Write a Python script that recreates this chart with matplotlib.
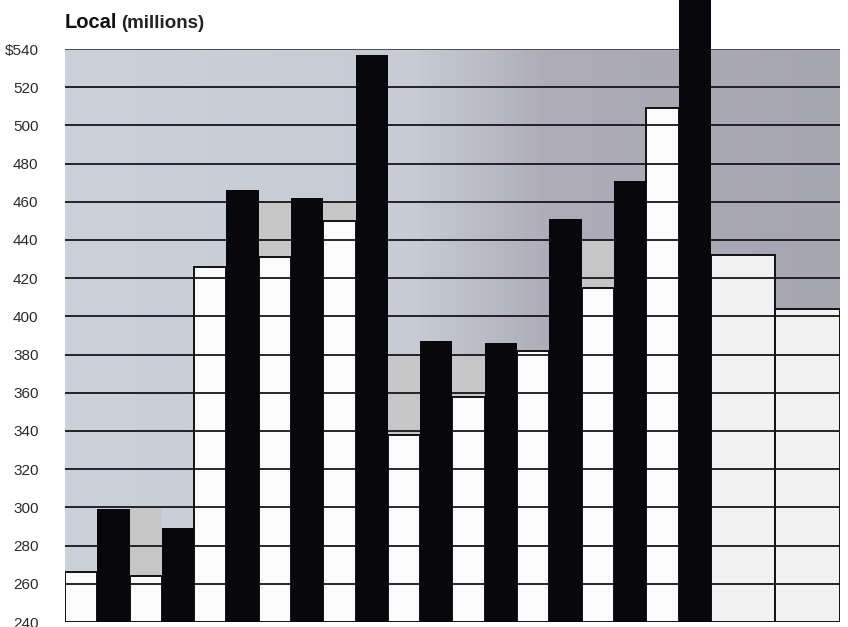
import numpy as np
import matplotlib.pyplot as plt
from matplotlib.colors import LinearSegmentedColormap

plt.rcParams["font.family"] = ["Liberation Sans", "DejaVu Sans"]

# Bar heights ($ millions), left to right
values = [266, 299, 264, 289, 426, 466, 431, 462, 450, 537, 338,
          387, 358, 386, 382, 451, 415, 471, 509, 590, 432, 404]
kinds = ["w", "b"] * 10 + ["w", "w"]
widths = [1] * 20 + [2, 2]

# Light gray extensions sitting on top of some white bars: bar index -> (low, high)
shade_ranges = {2: (264, 300), 6: (431, 460), 8: (450, 460),
                10: (338, 380), 12: (358, 380), 16: (415, 440)}

ytick_vals = list(range(240, 541, 20))
ytick_labels = [str(v) for v in ytick_vals[:-1]] + ["$540"]

lefts = np.concatenate([[0], np.cumsum(widths)[:-1]])
xmax = float(sum(widths))
ymin, ymax = 240, 540

fig = plt.figure(figsize=(8.48, 6.27), dpi=100)
ax = fig.add_axes([65 / 848, 5 / 627, 775 / 848, 573 / 627])
ax.set_xlim(0, xmax)
ax.set_ylim(ymin, ymax)

# shaded backdrop, cool gray on the left drifting to a darker mauve gray
bg = LinearSegmentedColormap.from_list(
    "bg", [(0.0, "#cbd1da"), (0.45, "#c6cbd4"), (0.63, "#adacb8"), (1.0, "#a6a5b2")])
grad = np.linspace(0, 1, 256).reshape(1, -1)
ax.imshow(grad, cmap=bg, aspect="auto", extent=(0, xmax, ymin, ymax),
          zorder=0, interpolation="bicubic")

for i, (lo, hi) in shade_ranges.items():
    ax.bar(lefts[i], hi - lo, width=widths[i], bottom=lo, align="edge",
           color="#c6c6c6", edgecolor="none", zorder=1)

for i, (v, k, w) in enumerate(zip(values, kinds, widths)):
    if k == "w":
        face = "#fbfbfb" if i < 20 else "#f1f1f1"
        ax.bar(lefts[i], v - ymin, width=w, bottom=ymin, align="edge",
               color=face, edgecolor="#111111", linewidth=1.4, zorder=1.5)

ax.hlines(ytick_vals[1:-1], 0, xmax, color="#161616", linewidth=1.3, zorder=2)
ax.hlines([ymax], 0, xmax, color="#444444", linewidth=1.3, zorder=2)

for i, (v, k, w) in enumerate(zip(values, kinds, widths)):
    if k == "b":
        ax.bar(lefts[i], v - ymin, width=w, bottom=ymin, align="edge",
               color="#07070c", edgecolor="none", zorder=3, clip_on=False)

for s in ax.spines.values():
    s.set_visible(False)
ax.set_xticks([])
ax.set_yticks(ytick_vals)
ax.set_yticklabels(ytick_labels, fontsize=11, color="#2a2a2a")
ax.tick_params(axis="y", length=0, pad=19)

fig.text(65 / 848, 1 - 28 / 627, "Local", fontsize=14.5, fontweight="bold",
         ha="left", va="baseline", color="#111111")
fig.text(121 / 848, 1 - 28 / 627, "(millions)", fontsize=13.5, fontweight="bold",
         ha="left", va="baseline", color="#222222")

fig.savefig("out.png", dpi=100)
